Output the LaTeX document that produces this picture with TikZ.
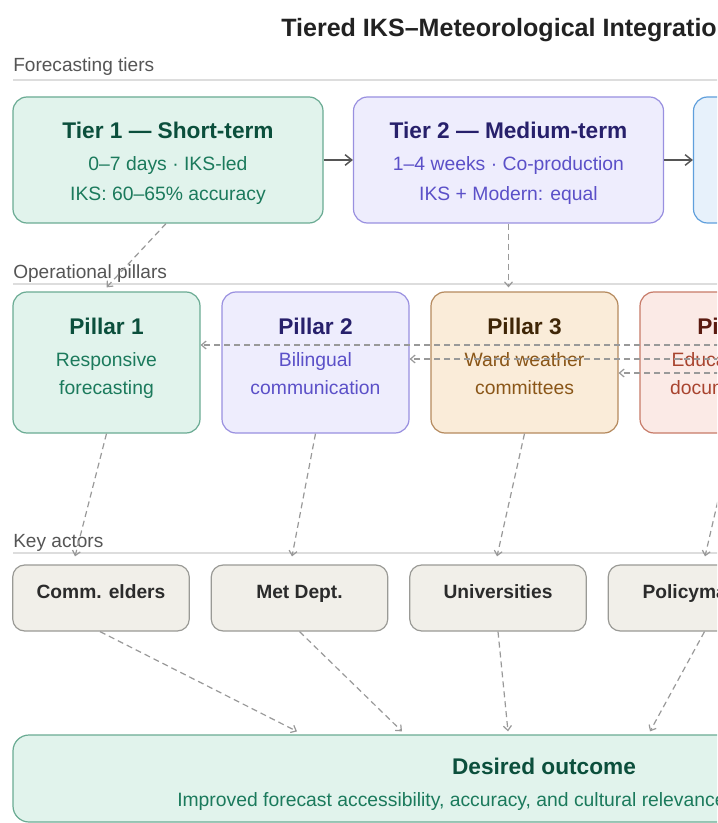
\documentclass[tikz,border=0pt]{standalone}
\usepackage{fontspec}
\setmainfont{Liberation Sans}
\usetikzlibrary{arrows.meta,calc}
\definecolor{gfill}{HTML}{E1F3EC}\definecolor{gdraw}{HTML}{6AAB93}\definecolor{gtitle}{HTML}{0B4F3C}\definecolor{gtext}{HTML}{1B7A5C}
\definecolor{pfill}{HTML}{EEEDFD}\definecolor{pdraw}{HTML}{9990E0}\definecolor{ptitle}{HTML}{27206B}\definecolor{ptext}{HTML}{5B50C8}
\definecolor{bfill}{HTML}{E7F1FB}\definecolor{bdraw}{HTML}{5F9FDC}
\definecolor{ofill}{HTML}{FAECD9}\definecolor{odraw}{HTML}{B58A5E}\definecolor{otitle}{HTML}{3F2607}\definecolor{otext}{HTML}{8A5618}
\definecolor{rfill}{HTML}{FBEAE6}\definecolor{rdraw}{HTML}{C77A68}\definecolor{rtitle}{HTML}{5A1A10}\definecolor{rtext}{HTML}{A8432E}
\definecolor{afill}{HTML}{F1EFE9}\definecolor{adraw}{HTML}{9A9A96}\definecolor{atext}{HTML}{2B2B2B}
\definecolor{seccol}{HTML}{555555}\definecolor{seclinecol}{HTML}{DDDDDD}
\definecolor{dashcol}{HTML}{999999}\definecolor{solidcol}{HTML}{555555}\definecolor{maintitle}{HTML}{222222}
\begin{document}
\begin{tikzpicture}[x=0.75pt,y=-0.75pt,
 box/.style={draw, rounded corners=10.5pt, line width=0.9pt, inner sep=0pt},
 tierbox/.style={box, minimum width=232.5pt, minimum height=94.5pt},
 pillarbox/.style={box, minimum width=140.25pt, minimum height=105.75pt},
 actorbox/.style={box, rounded corners=9pt, fill=afill, draw=adraw, minimum width=132.4pt, minimum height=49.5pt},
 ttl/.style={font=\bfseries\fontsize{17}{20}\selectfont, anchor=base, inner sep=0pt},
 txt/.style={font=\fontsize{14.5}{17}\selectfont, anchor=base, inner sep=0pt},
 acttxt/.style={font=\bfseries\fontsize{14.4}{17}\selectfont, text=atext, anchor=base, inner sep=0pt},
 sec/.style={font=\fontsize{14.3}{17}\selectfont, text=seccol, anchor=base west, inner sep=0pt},
 secline/.style={draw=seclinecol, line width=1.1pt},
 flow/.style={draw=solidcol, line width=1.1pt, -{Straight Barb[length=5pt,width=8pt]}},
 link/.style={draw=dashcol, line width=0.9pt, dash pattern=on 4.5pt off 3pt, -{Straight Barb[length=3.5pt,width=6pt]}},
]
\useasboundingbox (0,0) rectangle (717,823);
\clip (0,0) rectangle (717,823);
\fill[white] (0,0) rectangle (717,823);

% title and sections
\node[font=\bfseries\fontsize{18.8}{22}\selectfont, text=maintitle, anchor=base west, inner sep=0pt] (title) at (281,37) {Tiered IKS–Meteorological Integration};
\node[sec] (s1) at (13,72) {Forecasting tiers};
\draw[secline] (13,80) -- (1075,80);
\node[sec] (s2) at (13,278) {Operational pillars};
\draw[secline] (13,284) -- (1075,284);
\node[sec] (s3) at (13,547) {Key actors};
\draw[secline] (13,553) -- (1075,553);

% tiers
\node[tierbox, fill=gfill, draw=gdraw] (t1) at (168,160) {};
\node[ttl, text=gtitle] (t1a) at (168,139) {Tier 1 — Short-term};
\node[txt, text=gtext] (t1b) at (168,171) {0–7 days · IKS-led};
\node[txt, text=gtext] (t1c) at (168,201) {IKS: 60–65\% accuracy};

\node[tierbox, fill=pfill, draw=pdraw] (t2) at (508.5,160) {};
\node[ttl, text=ptitle] (t2a) at (508.5,139) {Tier 2 — Medium-term};
\node[txt, text=ptext] (t2b) at (508.5,171) {1–4 weeks · Co-production};
\node[txt, text=ptext] (t2c) at (508.5,201) {IKS + Modern: equal};

\node[tierbox, fill=bfill, draw=bdraw] (t3) at (848.5,160) {};

% pillars
\node[pillarbox, fill=gfill, draw=gdraw] (p1) at (106.5,362.5) {};
\node[ttl, text=gtitle] (p1a) at (106.5,334) {Pillar 1};
\node[txt, text=gtext] (p1b) at (106.5,366) {Responsive};
\node[txt, text=gtext] (p1c) at (106.5,394) {forecasting};

\node[pillarbox, fill=pfill, draw=pdraw] (p2) at (315.5,362.5) {};
\node[ttl, text=ptitle] (p2a) at (315.5,334) {Pillar 2};
\node[txt, text=ptext] (p2b) at (315.5,366) {Bilingual};
\node[txt, text=ptext] (p2c) at (315.5,394) {communication};

\node[pillarbox, fill=ofill, draw=odraw] (p3) at (524.5,362.5) {};
\node[ttl, text=otitle] (p3a) at (524.5,334) {Pillar 3};
\node[txt, text=otext] (p3b) at (524.5,366) {Ward weather};
\node[txt, text=otext] (p3c) at (524.5,394) {committees};

\node[pillarbox, fill=rfill, draw=rdraw] (p4) at (733.5,362.5) {};
\node[ttl, text=rtitle] (p4a) at (734.5,334) {Pillar 4};
\node[txt, text=rtext] (p4b) at (733.5,366) {Education and};
\node[txt, text=rtext] (p4c) at (733.5,394) {documentation};

% actors
\node[actorbox] (a1) at (101,598) {};
\node[acttxt] (a1t) at (101,598) {Comm. elders};
\node[actorbox] (a2) at (299.5,598) {};
\node[acttxt] (a2t) at (299.5,598) {Met Dept.};
\node[actorbox] (a3) at (498,598) {};
\node[acttxt] (a3t) at (498,598) {Universities};
\node[actorbox] (a4) at (696.5,598) {};
\node[acttxt] (a4t) at (704.5,598) {Policymakers};

% outcome
\node[box, rounded corners=12pt, fill=gfill, draw=gdraw, minimum width=796.5pt, minimum height=65.25pt] (out) at (544,778.5) {};
\node[ttl, text=gtitle] (outa) at (544,774) {Desired outcome};
\node[txt, text=gtext, anchor=base west] (outb) at (177,806) {Improved forecast accessibility, accuracy, and cultural relevance};

% connectors
\draw[flow] (t1.east) -- (t2.west);
\draw[flow] (t2.east) -- (t3.west);

\draw[link] ($(t1.south)+(-2,0)$) -- ($(p1.north)+(0,-4)$);
\draw[link] (t2.south) -- ($(p3.north)+(-16,-4)$);

\coordinate (h1) at (1000,345);
\coordinate (h2) at (1000,359);
\coordinate (h3) at (1000,373);
\draw[link] (h1) -- (p1.east |- h1);
\draw[link] (h2) -- (p2.east |- h2);
\draw[link] (h3) -- (p3.east |- h3);

\draw[link] (p1.south) -- ($(a1.north)+(-26,-8)$);
\draw[link] (p2.south) -- ($(a2.north)+(-7.5,-8)$);
\draw[link] (p3.south) -- ($(a3.north)+(-1,-8)$);
\draw[link] (p4.south) -- ($(a4.north)+(8.5,-8)$);

\draw[link] ($(a1.south)+(-1,0)$) -- ($(out.north)+(-247,-3)$);
\draw[link] (a2.south) -- ($(out.north)+(-142,-3)$);
\draw[link] (a3.south) -- ($(out.north)+(-36,-3)$);
\draw[link] ($(a4.south)+(8,0)$) -- ($(out.north)+(106,-3)$);
\end{tikzpicture}
\end{document}
